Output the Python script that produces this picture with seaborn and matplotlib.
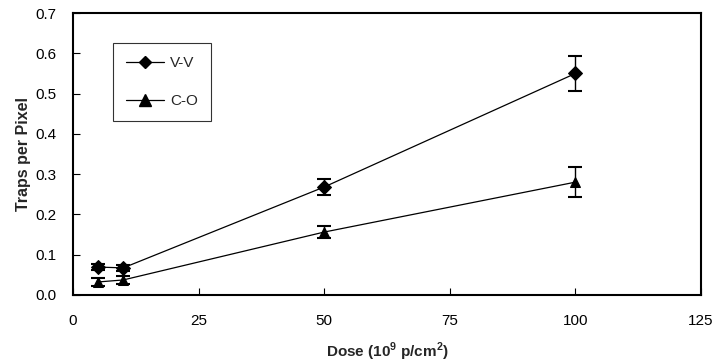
import matplotlib
matplotlib.use("Agg")
import matplotlib.pyplot as plt
from matplotlib.lines import Line2D
import seaborn as sns
import pandas as pd

# Trap density versus proton dose
dose = [5, 10, 50, 100]
vv_traps = [0.069, 0.067, 0.268, 0.550]
vv_err = [0.007, 0.007, 0.020, 0.044]
co_traps = [0.032, 0.037, 0.156, 0.280]
co_err = [0.010, 0.010, 0.016, 0.038]
series_names = ["V-V", "C-O"]
x_ticks = [0, 25, 50, 75, 100, 125]
y_ticks = [0.0, 0.1, 0.2, 0.3, 0.4, 0.5, 0.6, 0.7]

sns.set_theme(style="white")
plt.rcParams["font.family"] = ["Liberation Sans", "DejaVu Sans"]
plt.rcParams["mathtext.fontset"] = "custom"
plt.rcParams["mathtext.rm"] = "Liberation Sans:bold"
plt.rcParams["mathtext.bf"] = "Liberation Sans:bold"

df = pd.DataFrame({
    "Dose": dose * 2,
    "Traps": vv_traps + co_traps,
    "Defect": [series_names[0]] * len(dose) + [series_names[1]] * len(dose),
})

fig = plt.figure(figsize=(7.16, 3.64), dpi=100)
ax = fig.add_axes([0.102, 0.190, 0.877, 0.774])

sns.lineplot(
    data=df, x="Dose", y="Traps", style="Defect",
    markers={"V-V": "D", "C-O": "^"}, dashes=False,
    color="black", linewidth=0.9, markersize=7.5,
    markeredgecolor="black", ax=ax, legend=False,
)
ax.errorbar(dose, vv_traps, yerr=vv_err, fmt="none", ecolor="black",
            elinewidth=1.0, capsize=5, capthick=1.5)
ax.errorbar(dose, co_traps, yerr=co_err, fmt="none", ecolor="black",
            elinewidth=1.0, capsize=5, capthick=1.5)

handles = [
    Line2D([], [], color="black", lw=0.9, marker="D", markersize=6),
    Line2D([], [], color="black", lw=0.9, marker="^", markersize=8),
]
leg = ax.legend(handles, series_names, loc="upper left",
                bbox_to_anchor=(0.063, 0.893), frameon=True, fancybox=False,
                edgecolor="black", fontsize=11, handlelength=2.5,
                labelspacing=1.55, borderpad=0.85, handletextpad=0.4,
                borderaxespad=0)
leg.get_frame().set_linewidth(0.8)

ax.set_xlim(0, 125)
ax.set_ylim(0, 0.7)
ax.set_xticks(x_ticks)
ax.set_yticks(y_ticks)
ax.set_yticklabels([f"{v:.1f}" for v in y_ticks])
ax.tick_params(direction="in", length=5, width=0.8, labelsize=11,
               colors="black", left=True, bottom=True)
ax.tick_params(axis="x", pad=14)
ax.tick_params(axis="y", pad=12)
for s in ax.spines.values():
    s.set_color("black")
    s.set_linewidth(1.5)

ax.set_xlabel(r"Dose (10$^{9}$ p/cm$^{2}$)", fontsize=11, fontweight="bold", labelpad=9)
ax.set_ylabel("Traps per Pixel", fontsize=11.5, fontweight="bold", labelpad=3)

fig.savefig("out.png", dpi=100)
